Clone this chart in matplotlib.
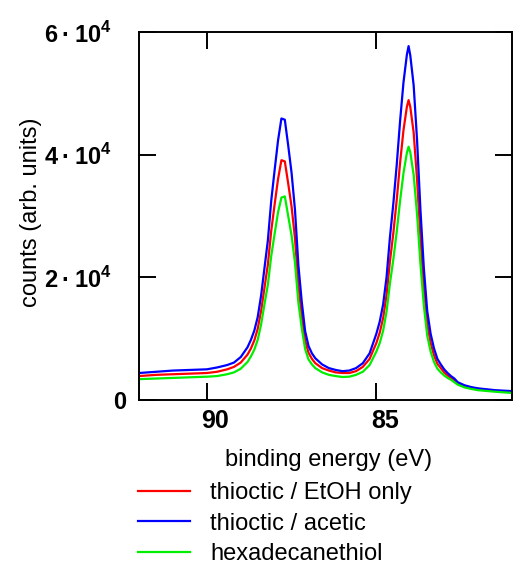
import numpy as np
import matplotlib
matplotlib.use('Agg')
import matplotlib.pyplot as plt
from matplotlib.lines import Line2D

plt.rcParams['font.family'] = ['Liberation Sans', 'DejaVu Sans']
plt.rcParams['mathtext.fontset'] = 'custom'
plt.rcParams['mathtext.bf'] = 'Liberation Sans:bold'
plt.rcParams['mathtext.rm'] = 'Liberation Sans:bold'

# binding energy (eV)
energy = [92.0, 91.5, 91.0, 90.5, 90.0, 89.7, 89.4, 89.2, 89.0, 88.8, 88.7, 88.6,
          88.5, 88.4, 88.3, 88.2, 88.1, 88.0, 87.9, 87.8, 87.7, 87.6, 87.5, 87.4,
          87.3, 87.2, 87.1, 87.0, 86.9, 86.8, 86.6, 86.4, 86.2, 86.0, 85.8, 85.6,
          85.4, 85.2, 85.0, 84.9, 84.8, 84.7, 84.6, 84.5, 84.4, 84.3, 84.2, 84.1,
          84.05, 84.0, 83.9, 83.8, 83.7, 83.6, 83.5, 83.4, 83.3, 83.2, 83.1, 83.0,
          82.9, 82.8, 82.7, 82.6, 82.4, 82.2, 82.0, 81.5, 81.0]

# counts in units of 1000
etoh = [3.9, 4.1, 4.2, 4.3, 4.4, 4.6, 5.0, 5.4, 6.1, 7.4, 8.4, 9.7,
        11.6, 14.5, 18.3, 22.1, 27.6, 31.9, 36.0, 39.1, 38.9, 35.3, 31.5, 26.4,
        18.7, 13.7, 9.7, 7.7, 6.7, 6.0, 5.2, 4.8, 4.5, 4.4, 4.4, 4.7,
        5.4, 6.7, 9.3, 11.0, 13.4, 17.1, 22.6, 27.2, 32.6, 38.7, 44.0, 47.8,
        48.9, 47.8, 43.6, 36.0, 26.4, 18.3, 12.4, 9.3, 7.3, 5.9, 5.2, 4.5,
        4.0, 3.6, 3.2, 2.7, 2.25, 2.0, 1.8, 1.5, 1.35]
acetic = [4.4, 4.6, 4.8, 4.9, 5.0, 5.3, 5.7, 6.1, 7.0, 8.6, 9.8, 11.3,
          13.5, 17.0, 21.5, 26.0, 32.5, 37.5, 42.3, 45.9, 45.7, 41.5, 37.0, 31.0,
          22.0, 16.0, 11.2, 8.8, 7.6, 6.8, 5.8, 5.2, 4.9, 4.7, 4.8, 5.2,
          6.0, 7.6, 10.8, 12.8, 15.6, 20.0, 26.5, 32.0, 38.3, 45.5, 51.8, 56.3,
          57.7, 56.2, 51.3, 42.4, 31.0, 21.5, 14.5, 10.8, 8.4, 6.7, 5.8, 5.0,
          4.4, 3.9, 3.5, 2.9, 2.4, 2.1, 1.9, 1.6, 1.45]
hdt = [3.4, 3.5, 3.6, 3.7, 3.8, 3.9, 4.2, 4.5, 5.1, 6.2, 7.1, 8.2,
       9.8, 12.3, 15.6, 18.8, 23.5, 27.1, 30.6, 33.0, 33.2, 30.0, 26.8, 22.4,
       15.9, 11.7, 8.3, 6.6, 5.8, 5.2, 4.5, 4.1, 3.9, 3.75, 3.8, 4.1,
       4.6, 5.7, 7.9, 9.3, 11.3, 14.4, 19.0, 22.9, 27.4, 32.5, 37.0, 40.3,
       41.3, 40.4, 36.7, 30.3, 22.2, 15.4, 10.5, 7.9, 6.2, 5.1, 4.5, 4.0,
       3.6, 3.3, 2.9, 2.5, 2.05, 1.8, 1.6, 1.35, 1.15]

series = [etoh, acetic, hdt]
labels = ['thioctic / EtOH only', 'thioctic / acetic', 'hexadecanethiol']
colors = ['#ff0000', '#0000ff', '#00ee00']

yticks = [0, 20, 40, 60]
ytick_labels = ['0', '2\u2009·\u200910$^{\\mathbf{4}}$',
                '4\u2009·\u200910$^{\\mathbf{4}}$', '6\u2009·\u200910$^{\\mathbf{4}}$']
xticks = [90, 85]
xtick_labels = ['90', '85']

W, H = 513, 565
fig = plt.figure(figsize=(W / 100, H / 100), dpi=100)
ax = fig.add_axes([139 / W, 165 / H, 373 / W, 368 / H])

for y, c in zip(series, colors):
    ax.plot(energy, y, color=c, lw=1.6)

ax.set_xlim(92, 81)
ax.set_ylim(0, 60)
ax.set_xticks(xticks)
ax.set_yticks(yticks)
ax.tick_params(direction='in', length=12, width=1.4, top=True, right=True,
               labelbottom=False, labelleft=False)
for s in ax.spines.values():
    s.set_linewidth(1.4)

# tick labels placed by hand (odd offsets in the original)
for v, t in zip(yticks, ytick_labels):
    off = -9 if v == 0 else -19.5
    ax.annotate(t, xy=(0, v), xycoords=ax.get_yaxis_transform(),
                xytext=(off, -2), textcoords='offset points',
                ha='right', va='center', fontsize=17, fontweight='bold')
for v, t in zip(xticks, xtick_labels):
    ax.annotate(t, xy=(v, 0), xycoords=ax.get_xaxis_transform(),
                xytext=(6, -15), textcoords='offset points',
                ha='center', va='center', fontsize=18, fontweight='bold')

fig.text(31 / W, 1 - 212 / H, 'counts (arb. units)', rotation=90,
         ha='center', va='center', fontsize=17)
fig.text(329 / W, 1 - 460 / H, 'binding energy (eV)',
         ha='center', va='center', fontsize=17)

handles = [Line2D([], [], color=c, lw=1.6) for c in colors]
fig.legend(handles, labels, loc='upper left', bbox_to_anchor=(138 / W, 1 - 482 / H),
           frameon=False, fontsize=17, handlelength=2.2, handletextpad=0.85,
           labelspacing=0.36, borderpad=0, borderaxespad=0)

fig.savefig('out.png', dpi=100)
